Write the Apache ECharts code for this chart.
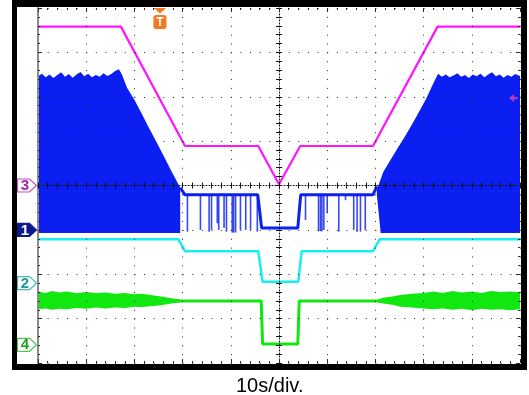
<!DOCTYPE html>
<html><head><meta charset="utf-8">
<script src="https://cdn.jsdelivr.net/npm/echarts@6/dist/echarts.min.js"></script>
<style>html,body{margin:0;padding:0;background:#fff}#c{width:529px;height:395px}</style>
</head><body><div id="c"></div>
<script>
// Time in seconds (10 s/div, 10 divisions); level in screen divisions (0 = bottom, 8 = top)
const xTicksSec = 10;
const timeMax = 100;
const divCount = 8;

// CH3 (magenta)
const ch3T = [0, 17.2, 30.5, 45.7, 50.0, 54.4, 69.5, 82.9, 100];
const ch3V = [7.58, 7.58, 4.89, 4.89, 4.03, 4.89, 4.89, 7.58, 7.58];

// CH2 (cyan)
const ch2T = [0, 29.1, 30.5, 45.7, 46.6, 54.0, 54.7, 69.5, 70.9, 100];
const ch2V = [2.79, 2.79, 2.52, 2.52, 1.83, 1.83, 2.52, 2.52, 2.79, 2.79];

// CH4 (green) centre trace
const ch4T = [0, 46.3, 46.6, 53.9, 54.2, 100];
const ch4V = [1.40, 1.40, 0.43, 0.43, 1.40, 1.40];
// CH4 noise envelope, left and right
const ch4LeftT   = [0, 1.5, 3, 4.5, 6, 8, 10, 12, 14, 16, 18, 20, 21.5, 23.3, 25.5, 27, 29.5];
const ch4LeftTop = [1.61, 1.58, 1.62, 1.59, 1.61, 1.57, 1.60, 1.58, 1.59, 1.56, 1.58, 1.55, 1.56, 1.53, 1.50, 1.47, 1.43];
const ch4LeftBot = [1.21, 1.23, 1.20, 1.22, 1.21, 1.24, 1.22, 1.25, 1.23, 1.25, 1.24, 1.27, 1.26, 1.28, 1.30, 1.33, 1.37];
const ch4RightT   = [70.5, 71.6, 73.5, 75.2, 77.5, 80, 82, 84, 86, 88, 90, 92, 94, 96, 98, 100];
const ch4RightTop = [1.43, 1.47, 1.50, 1.53, 1.56, 1.58, 1.61, 1.58, 1.62, 1.59, 1.61, 1.58, 1.62, 1.60, 1.61, 1.59];
const ch4RightBot = [1.37, 1.34, 1.31, 1.27, 1.25, 1.23, 1.21, 1.23, 1.20, 1.22, 1.19, 1.22, 1.20, 1.21, 1.19, 1.21];

// CH1 (blue) middle trace
const ch1MidT = [29.5, 30.5, 45.6, 46.4, 53.9, 54.5, 69.5, 70.3];
const ch1MidV = [3.95, 3.79, 3.79, 3.04, 3.04, 3.79, 3.79, 3.98];
// CH1 switching envelope, left (top edge read along the burst)
const ch1LeftT   = [0, 0.8, 1.6, 2.4, 3.2, 4, 4.8, 5.6, 6.4, 7.2, 8, 8.8, 9.6, 10.4, 11.2, 12, 12.8, 13.6,
                    14.4, 15.2, 16, 16.8, 17.4, 18.5, 20, 21.5, 23, 24.5, 26, 27.5, 29.5];
const ch1LeftTop = [6.46, 6.52, 6.44, 6.50, 6.42, 6.49, 6.55, 6.45, 6.51, 6.43, 6.50, 6.56, 6.46, 6.52, 6.44,
                    6.49, 6.45, 6.53, 6.47, 6.51, 6.58, 6.62, 6.5, 6.2, 5.93, 5.62, 5.3, 5.0, 4.68, 4.36, 3.95];
const ch1LeftBotT = [29.5, 0];
const ch1LeftBotV = [2.93, 2.93];
// CH1 switching envelope, right
const ch1RightT   = [70.3, 71.6, 73, 74.5, 76, 77.5, 79, 80.5, 82, 83, 83.8, 84.6, 85.4, 86.2, 87, 87.8,
                     88.6, 89.4, 90.2, 91, 91.8, 92.6, 93.4, 94.2, 95, 95.8, 96.6, 97.4, 98.2, 99, 100];
const ch1RightTop = [3.9, 4.3, 4.55, 4.82, 5.08, 5.36, 5.65, 5.95, 6.3, 6.52, 6.45, 6.5, 6.44, 6.48, 6.53,
                     6.45, 6.49, 6.42, 6.5, 6.46, 6.52, 6.44, 6.5, 6.55, 6.46, 6.5, 6.43, 6.49, 6.45, 6.51, 6.47];
const ch1RightBotT = [100, 71.1, 70.3];
const ch1RightBotV = [2.93, 2.93, 3.79];
// CH1 glitches down from the middle level
const spikeT   = [31.0, 33.7, 35.5, 36.0, 37.2, 37.5, 38.6, 39.1, 40.3, 40.6, 41.0, 42.0, 43.1, 44.1, 45.5,
                  55.5, 58.2, 58.6, 58.9, 59.3, 60.0, 62.4, 63.8, 65.5, 66.2, 66.9, 67.9];
const spikeBot = [2.96, 3.0, 2.96, 3.0, 3.15, 3.0, 3.05, 2.96, 2.94, 2.94, 2.94, 3.0, 3.0, 3.0, 2.96,
                  3.22, 2.97, 2.97, 2.97, 3.0, 3.38, 2.96, 3.67, 3.0, 2.96, 2.96, 3.0];

// Channel ground markers
const tagNames  = ['3', '1', '2', '4'];
const tagLevels = [4.0, 3.0, 1.8, 0.41];
const triggerT = 25.3;
const ch3RefLevel = 5.97;
const timebaseLabel = '10s/div.';

const C = { ch1: '#0b1ff2', ch2: '#17eeee', ch3: '#ff14ff', ch4: '#10e810', trig: '#f47a1f' };
const tagStyles = [
  { fill: '#fff', stroke: '#c650c6', text: '#a424a4' },
  { fill: '#0d1a8c', stroke: '#0d1a8c', text: '#fff' },
  { fill: '#fff', stroke: '#40b8b8', text: '#1f9a9a' },
  { fill: '#fff', stroke: '#50c850', text: '#22a022' }
];

const zip = (a, b) => a.map((v, i) => [v, b[i]]);

function bandSeries(topT, topV, botT, botV, color) {
  return {
    type: 'custom', xAxisIndex: 0, yAxisIndex: 0, z: 1, silent: true,
    data: [[topT[0], topV[0]]],
    renderItem: function (params, api) {
      const pts = zip(topT, topV).concat(zip(botT, botV)).map(p => api.coord(p));
      return { type: 'polygon', shape: { points: pts }, style: { fill: color } };
    }
  };
}
function lineSeries(t, v, color, w, z) {
  return { type: 'line', xAxisIndex: 0, yAxisIndex: 0, data: zip(t, v), showSymbol: false, symbol: 'none',
    z: z, silent: true, animation: false, lineStyle: { color: color, width: w } };
}

const dotCol = '#2a2a2a';
const borderX = (pos) => ({
  type: 'value', min: 0, max: timeMax, interval: xTicksSec, position: pos, z: 4,
  axisLine: { show: false, onZero: false },
  axisTick: { show: true, inside: true, length: 4, lineStyle: { color: dotCol } },
  minorTick: { show: true, splitNumber: 5, length: 2, lineStyle: { color: dotCol } },
  axisLabel: { show: false },
  splitLine: { show: pos === 'bottom', lineStyle: { color: dotCol, width: 1, type: [1, 7.875] } }
});
const borderY = (pos) => ({
  type: 'value', min: 0, max: divCount, interval: 1, position: pos, z: 4,
  axisLine: { show: pos === 'left', onZero: false, lineStyle: { color: '#8c8c8c', width: 2 } },
  axisTick: { show: true, inside: true, length: 4, lineStyle: { color: dotCol } },
  minorTick: { show: true, splitNumber: 5, length: 2, lineStyle: { color: dotCol } },
  axisLabel: { show: false },
  splitLine: { show: pos === 'left', lineStyle: { color: dotCol, width: 1, type: [1, 8.64] } }
});
const centerX = (inside, showLine) => ({
  type: 'value', min: -timeMax / 2, max: timeMax / 2, interval: xTicksSec, position: 'bottom', z: 4,
  axisLine: { show: showLine, onZero: true, onZeroAxisIndex: 2, lineStyle: { color: '#111', width: 1, type: [1, 2] } },
  axisTick: { show: true, inside: inside, length: 3, lineStyle: { color: '#111' } },
  minorTick: { show: true, splitNumber: 5, length: 3, lineStyle: { color: '#111' } },
  axisLabel: { show: false }, splitLine: { show: false }
});
const centerY = (inside, showLine) => ({
  type: 'value', min: -divCount / 2, max: divCount / 2, interval: 1, position: 'left', z: 4,
  axisLine: { show: showLine, onZero: true, onZeroAxisIndex: 2, lineStyle: { color: '#111', width: 1, type: [1, 2] } },
  axisTick: { show: true, inside: inside, length: 3, lineStyle: { color: '#111' } },
  minorTick: { show: true, splitNumber: 5, length: 3, lineStyle: { color: '#111' } },
  axisLabel: { show: false }, splitLine: { show: false }
});

const chart = echarts.init(document.getElementById('c'), null, { renderer: 'canvas' });
chart.setOption({
  animation: false,
  backgroundColor: '#fff',
  title: { text: timebaseLabel, left: 231, top: 371,
    textStyle: { fontFamily: 'Liberation Sans', fontSize: 20, fontWeight: 'normal', color: '#000' } },
  grid: { left: 38, top: 8, width: 482, height: 355, show: false },
  xAxis: [borderX('bottom'), borderX('top'), centerX(false, true), centerX(true, false)],
  yAxis: [borderY('left'), borderY('right'), centerY(false, true), centerY(true, false)],
  series: [
    bandSeries(ch1LeftT, ch1LeftTop, ch1LeftBotT, ch1LeftBotV, C.ch1),
    bandSeries(ch1RightT, ch1RightTop, ch1RightBotT, ch1RightBotV, C.ch1),
    bandSeries(ch4LeftT, ch4LeftTop, ch4LeftT.slice().reverse(), ch4LeftBot.slice().reverse(), C.ch4),
    bandSeries(ch4RightT, ch4RightTop, ch4RightT.slice().reverse(), ch4RightBot.slice().reverse(), C.ch4),
    {
      type: 'custom', xAxisIndex: 0, yAxisIndex: 0, z: 2, silent: true,
      data: spikeT.map((t, i) => [t, spikeBot[i]]),
      renderItem: function (params, api) {
        const t = api.value(0);
        const a = api.coord([t, ch1MidV[1]]);
        const b = api.coord([t, api.value(1)]);
        return { type: 'line', shape: { x1: a[0], y1: a[1], x2: b[0], y2: b[1] },
          style: { stroke: 'rgba(20,40,240,0.85)', lineWidth: 1.6 } };
      }
    },
    lineSeries(ch1MidT, ch1MidV, C.ch1, 3, 3),
    lineSeries(ch2T, ch2V, C.ch2, 2.5, 3),
    lineSeries(ch4T, ch4V, C.ch4, 3, 3),
    lineSeries(ch3T, ch3V, C.ch3, 2.2, 3),
    {
      type: 'custom', xAxisIndex: 0, yAxisIndex: 0, z: 6, silent: true, clip: false,
      data: tagLevels.map(v => [0, v]),
      renderItem: function (params, api) {
        const i = params.dataIndex;
        const p = api.coord([api.value(0), api.value(1)]);
        const x = p[0] - 1.5, y = p[1];
        const s = tagStyles[i];
        return { type: 'group', children: [
          { type: 'polygon', shape: { points: [[x - 19, y - 6.5], [x - 7, y - 6.5], [x, y], [x - 7, y + 6.5], [x - 19, y + 6.5]] },
            style: { fill: s.fill, stroke: s.stroke, lineWidth: 1.2 } },
          { type: 'text', style: { text: tagNames[i], x: x - 11.5, y: y + 0.5, align: 'center', verticalAlign: 'middle',
            fill: s.text, font: 'bold 15px "Liberation Sans"' } }
        ] };
      }
    },
    {
      type: 'custom', xAxisIndex: 0, yAxisIndex: 0, z: 6, silent: true, clip: false,
      data: [[triggerT, divCount]],
      renderItem: function (params, api) {
        const p = api.coord([api.value(0), api.value(1)]);
        const x = p[0], y = p[1];
        return { type: 'group', children: [
          { type: 'polygon', shape: { points: [[x - 6, y], [x + 6, y], [x, y + 5.5]] }, style: { fill: C.trig } },
          { type: 'rect', shape: { x: x - 6.5, y: y + 7, width: 13, height: 14, r: 2.5 }, style: { fill: C.trig } },
          { type: 'text', style: { text: 'T', x: x, y: y + 14.5, align: 'center', verticalAlign: 'middle',
            fill: '#fff', font: 'bold 12px "Liberation Sans"' } }
        ] };
      }
    },
    {
      type: 'custom', xAxisIndex: 0, yAxisIndex: 0, z: 6, silent: true, clip: false,
      data: [[timeMax, ch3RefLevel]],
      renderItem: function (params, api) {
        const p = api.coord([api.value(0), api.value(1)]);
        const x = p[0], y = p[1];
        return { type: 'group', children: [
          { type: 'polygon', shape: { points: [[x - 11, y], [x - 6, y - 4], [x - 6, y + 4]] }, style: { fill: '#b43cc0' } },
          { type: 'rect', shape: { x: x - 6.5, y: y - 1.2, width: 4, height: 2.4 }, style: { fill: '#b43cc0' } }
        ] };
      }
    }
  ],
  graphic: [
    { type: 'rect', z: 100, silent: true, shape: { x: 12, y: 0, width: 515, height: 7 }, style: { fill: '#000' } },
    { type: 'rect', z: 100, silent: true, shape: { x: 12, y: 364, width: 515, height: 6 }, style: { fill: '#000' } },
    { type: 'rect', z: 100, silent: true, shape: { x: 12, y: 0, width: 5, height: 370 }, style: { fill: '#000' } },
    { type: 'rect', z: 100, silent: true, shape: { x: 521, y: 0, width: 6, height: 370 }, style: { fill: '#000' } }
  ]
});
</script></body></html>
